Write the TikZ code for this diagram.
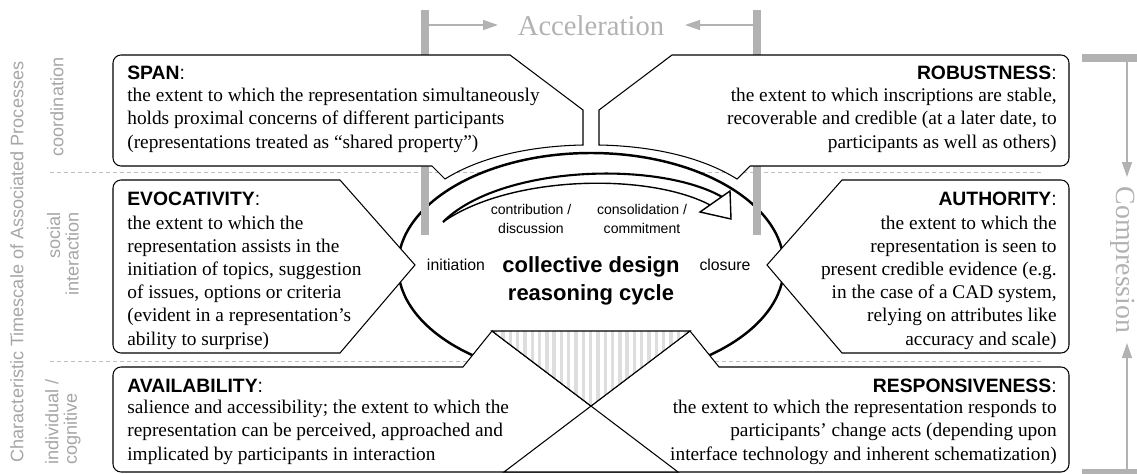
\documentclass[tikz,border=0pt]{standalone}
\usepackage{fontspec}
\setmainfont{Liberation Serif}
\setsansfont{Liberation Sans}
\usetikzlibrary{arrows.meta}

\tikzset{
  box/.style={draw, line width=0.6pt, fill=white},
  layerline/.style={draw=black!25, line width=0.5pt, dash pattern=on 0.8mm off 0.6mm},
  speedbar/.style={draw=black!30, line width=1.6mm},
  speedarrow/.style={draw=black!30, line width=0.8pt, -{Triangle[length=3mm,width=2mm]}},
  heading/.style={font=\sffamily\fontsize{11}{13}\selectfont, inner sep=0pt},
  body/.style={font=\fontsize{11}{13.2}\selectfont, inner sep=0pt},
  phase/.style={font=\sffamily\fontsize{8}{10.8}\selectfont, inner sep=0pt, align=center},
  sidelabel/.style={font=\sffamily\fontsize{10.3}{10.5}\selectfont, text=black!35, inner sep=0pt},
  bigword/.style={font=\fontsize{16.3}{18}\selectfont, text=black!30, inner sep=0pt},
}

\begin{document}
\begin{tikzpicture}[x=0.2mm, y=-0.2mm]
  \useasboundingbox (0,0) rectangle (1137,474);

  % layer separators
  \coordinate (sepA1) at (50,172);
  \coordinate (sepA2) at (1042,172);
  \coordinate (sepB1) at (50,361);
  \coordinate (sepB2) at (1042,361);
  \draw[layerline] (sepA1) -- (sepA2);
  \draw[layerline] (sepB1) -- (sepB2);

  % the cycle
  \draw[line width=1.4pt, fill=white] (591,266) ellipse [x radius=38.6mm, y radius=22.6mm];

  % acceleration
  \coordinate (barL1) at (425,10);
  \coordinate (barL2) at (425,235);
  \coordinate (barR1) at (757,10);
  \coordinate (barR2) at (757,235);
  \draw[speedbar] (barL1) -- (barL2);
  \draw[speedbar] (barR1) -- (barR2);
  \node[bigword, anchor=base] (accel) at (591,36) {Acceleration};
  \coordinate (accL) at (429,25);
  \coordinate (accLtip) at (498,25);
  \coordinate (accR) at (753,25);
  \coordinate (accRtip) at (685,25);
  \draw[speedarrow] (accL) -- (accLtip);
  \draw[speedarrow] (accR) -- (accRtip);

  % arrow inside the cycle
  \fill[white] (443,222) .. controls (500,165) and (660,160) .. (724,198)
    -- (712,206) .. controls (650,172) and (510,175) .. (443,222) -- cycle;
  \draw[line width=1.2pt] (443,222) .. controls (500,165) and (660,160) .. (724,198);
  \draw[line width=0.8pt] (712,206) .. controls (650,172) and (510,175) .. (443,222);
  \draw[line width=0.8pt, fill=white, line join=miter] (730,191) -- (700,212) -- (731,219) -- cycle;

  \node[phase, anchor=base] (contrib) at (531,233) {contribution /\\discussion};
  \node[phase, anchor=base] (consol) at (642,233) {consolidation /\\commitment};
  \node[phase, font=\sffamily\fontsize{9}{11}\selectfont, anchor=base] (init) at (456,270) {initiation};
  \node[phase, font=\sffamily\fontsize{9}{11}\selectfont, anchor=base] (close) at (725,270) {closure};
  \node[phase, font=\sffamily\bfseries\fontsize{12.5}{15.4}\selectfont, anchor=base] (cycle) at (591,300)
    {collective design\\reasoning cycle};

  % boxes
  \draw[box] (300,55) [rounded corners=1.6mm] -- (113,55) -- (113,166) -- (300,166) [sharp corners]
    -- (432,166) -- (445,179) .. controls (481,156.5) and (531,146) .. (583,145)
    -- (583,110) -- (510,55) -- cycle;
  \draw[box] (882,55) [rounded corners=1.6mm] -- (1069,55) -- (1069,166) -- (882,166) [sharp corners]
    -- (750,166) -- (737,179) .. controls (701,156.5) and (651,146) .. (599,145)
    -- (599,110) -- (672,55) -- cycle;
  \draw[box] (250,180) [rounded corners=1.6mm] -- (113,180) -- (113,353) -- (250,353) [sharp corners]
    -- (340,353) -- (415,265) -- (340,180) -- cycle;
  \draw[box] (932,180) [rounded corners=1.6mm] -- (1069,180) -- (1069,353) -- (932,353) [sharp corners]
    -- (842,353) -- (767,265) -- (842,180) -- cycle;
  \draw[box] (300,367) [rounded corners=1.6mm] -- (113,367) -- (113,472) -- (300,472) [sharp corners]
    -- (678,472) -- (492,331) -- (463,367) -- cycle;
  \draw[box] (882,367) [rounded corners=1.6mm] -- (1069,367) -- (1069,472) -- (882,472) [sharp corners]
    -- (504,472) -- (690,331) -- (719,367) -- cycle;
  \draw[line width=0.6pt] (492,331) -- (678,472);

  % striped wedge
  \begin{scope}
    \clip (492,331) -- (690,331) -- (591,406) -- cycle;
    \fill[white] (480,325) rectangle (700,410);
    \foreach \i in {0,...,27}
      \fill[black!13] ({494+7.3*\i},325) rectangle ++(3.4,90);
  \end{scope}
  \draw[line width=0.6pt] (492,331) -- (690,331) -- (591,406) -- cycle;

  % box texts
  \node[heading, anchor=base west] (spanhead) at (127,79) {\textbf{SPAN}:};
  \node[body, anchor=base west, align=left] (spantext) at (127,148)
    {the extent to which the representation simultaneously\\
     holds proximal concerns of different participants\\
     (representations treated as “shared property”)};
  \node[heading, anchor=base east] (robusthead) at (1057,79) {\textbf{ROBUSTNESS}:};
  \node[body, anchor=base east, align=right] (robusttext) at (1057,148)
    {the extent to which inscriptions are stable,\\
     recoverable and credible (at a later date, to\\
     participants as well as others)};
  \node[heading, anchor=base west] (evochead) at (127,205) {\textbf{EVOCATIVITY}:};
  \node[body, anchor=base west, align=left] (evoctext) at (127,345)
    {the extent to which the\\
     representation assists in the\\
     initiation of topics, suggestion\\
     of issues, options or criteria\\
     (evident in a representation’s\\
     ability to surprise)};
  \node[heading, anchor=base east] (authhead) at (1057,205) {\textbf{AUTHORITY}:};
  \node[body, anchor=base east, align=right] (authtext) at (1057,345)
    {the extent to which the\\
     representation is seen to\\
     present credible evidence (e.g.\\
     in the case of a CAD system,\\
     relying on attributes like\\
     accuracy and scale)};
  \node[heading, anchor=base west] (availhead) at (127,392) {\textbf{AVAILABILITY}:};
  \node[body, anchor=base west, align=left] (availtext) at (127,460)
    {salience and accessibility; the extent to which the\\
     representation can be perceived, approached and\\
     implicated by participants in interaction};
  \node[heading, anchor=base east] (resphead) at (1057,392) {\textbf{RESPONSIVENESS}:};
  \node[body, anchor=base east, align=right] (resptext) at (1057,460)
    {the extent to which the representation responds to\\
     participants’ change acts (depending upon\\
     interface technology and inherent schematization)};

  % timescale labels
  \node[sidelabel, rotate=90] (timescale) at (17,262) {Characteristic Timescale of Associated Processes};
  \node[sidelabel, rotate=90] (coord) at (57,107) {coordination};
  \node[sidelabel, rotate=90, anchor=east, align=right] (social) at (63,212) {social\\interaction};
  \node[sidelabel, rotate=90, anchor=west, align=left] (indiv) at (63,465) {individual /\\cognitive};

  % compression
  \coordinate (cmpBar1) at (1082,58);
  \coordinate (cmpBar2) at (1137,58);
  \coordinate (cmpBar3) at (1082,473);
  \coordinate (cmpBar4) at (1137,473);
  \draw[speedbar, line width=1.5mm] (cmpBar1) -- (cmpBar2);
  \draw[speedbar, line width=1.5mm] (cmpBar3) -- (cmpBar4);
  \node[bigword, font=\fontsize{15.8}{18}\selectfont, rotate=-90, anchor=base] (compress) at (1116,260) {Compression};
  \coordinate (cmpTop) at (1127,62);
  \coordinate (cmpTopTip) at (1127,177);
  \coordinate (cmpBot) at (1127,469);
  \coordinate (cmpBotTip) at (1127,343);
  \draw[speedarrow] (cmpTop) -- (cmpTopTip);
  \draw[speedarrow] (cmpBot) -- (cmpBotTip);
\end{tikzpicture}
\end{document}
